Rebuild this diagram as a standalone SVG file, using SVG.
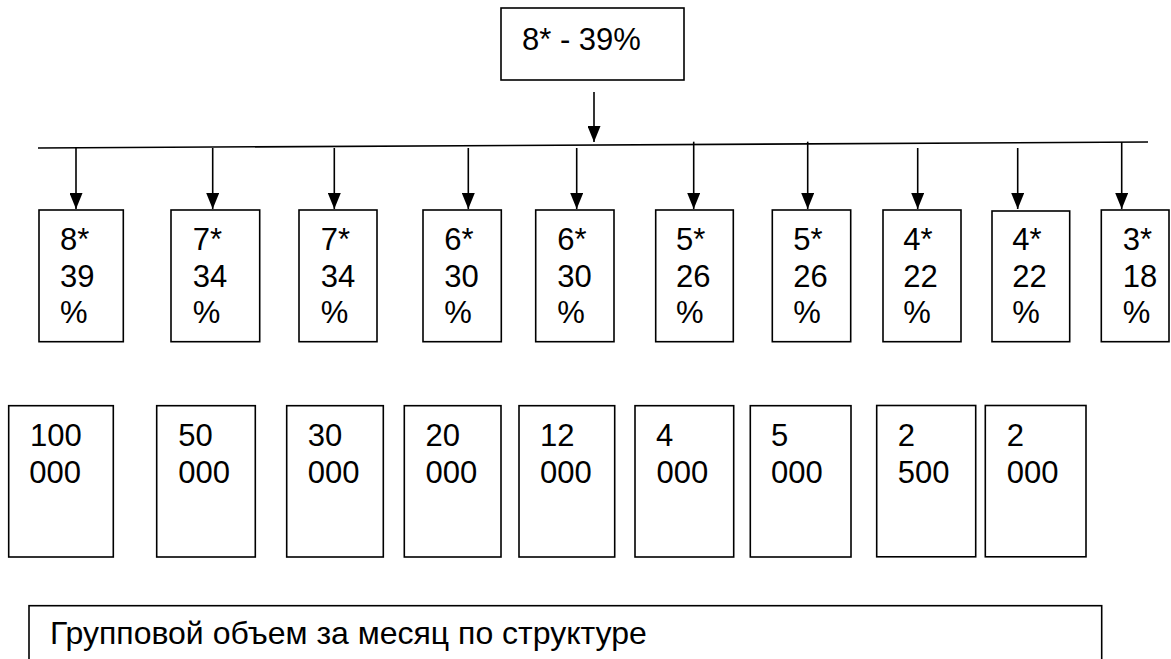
<svg xmlns="http://www.w3.org/2000/svg" width="1171" height="659" viewBox="0 0 1171 659">
<style>
.box{fill:#fff;stroke:#000;stroke-width:1.6}
.t{font-family:"Liberation Sans",Arial,sans-serif;font-size:31px;fill:#000}
.tb{font-family:"Liberation Sans",Arial,sans-serif;font-size:32px;fill:#000}
.ln{stroke:#000;stroke-width:1.6;fill:none}
.ar{stroke:#000;stroke-width:1.6;fill:none;marker-end:url(#ah)}
</style>
<defs>
<marker id="ah" markerUnits="userSpaceOnUse" markerWidth="16" markerHeight="13" refX="16" refY="6.5" orient="auto">
<path d="M0,0 L16,6.5 L0,13 Z" fill="#000"/>
</marker>
</defs>
<rect width="1171" height="659" fill="#fff"/>
<g id="top">
<rect class="box" x="501" y="8" width="183" height="72"/>
<text class="t" x="522" y="50">8* - 39%</text>
</g>
<g id="connectors">
<line class="ar" x1="594" y1="92" x2="594" y2="142"/>
<line class="ln" x1="38" y1="148" x2="1148" y2="142"/>
<line class="ar" x1="76" y1="148" x2="76" y2="209"/>
<line class="ar" x1="212.7" y1="148" x2="212.7" y2="209"/>
<line class="ar" x1="334.3" y1="148" x2="334.3" y2="209"/>
<line class="ar" x1="468.3" y1="148" x2="468.3" y2="209"/>
<line class="ar" x1="576.7" y1="148" x2="576.7" y2="209"/>
<line class="ar" x1="693.7" y1="141.7" x2="693.7" y2="209"/>
<line class="ar" x1="807.7" y1="141.7" x2="807.7" y2="209"/>
<line class="ar" x1="917.7" y1="148" x2="917.7" y2="209"/>
<line class="ar" x1="1017.7" y1="148" x2="1017.7" y2="209"/>
<line class="ar" x1="1121.7" y1="142" x2="1121.7" y2="209"/>
</g>
<g id="m1"><rect class="box" x="39" y="210" width="84.3" height="131.7"/><text class="t" x="60" y="250">8*</text><text class="t" x="60" y="286.7">39</text><text class="t" x="60" y="323">%</text></g>
<g id="m2"><rect class="box" x="171" y="210" width="88.7" height="131.7"/><text class="t" x="192.7" y="250">7*</text><text class="t" x="192.7" y="286.7">34</text><text class="t" x="192.7" y="323">%</text></g>
<g id="m3"><rect class="box" x="299" y="210" width="78" height="131.7"/><text class="t" x="320.7" y="250">7*</text><text class="t" x="320.7" y="286.7">34</text><text class="t" x="320.7" y="323">%</text></g>
<g id="m4"><rect class="box" x="423" y="210" width="78.3" height="131.7"/><text class="t" x="444.3" y="250">6*</text><text class="t" x="444.3" y="286.7">30</text><text class="t" x="444.3" y="323">%</text></g>
<g id="m5"><rect class="box" x="535.7" y="210" width="78.3" height="131.7"/><text class="t" x="557.3" y="250">6*</text><text class="t" x="557.3" y="286.7">30</text><text class="t" x="557.3" y="323">%</text></g>
<g id="m6"><rect class="box" x="655.7" y="210" width="77.6" height="131.7"/><text class="t" x="676" y="250">5*</text><text class="t" x="676" y="286.7">26</text><text class="t" x="676" y="323">%</text></g>
<g id="m7"><rect class="box" x="772.3" y="210" width="78.4" height="131.7"/><text class="t" x="793.3" y="250">5*</text><text class="t" x="793.3" y="286.7">26</text><text class="t" x="793.3" y="323">%</text></g>
<g id="m8"><rect class="box" x="883" y="210" width="78" height="131.7"/><text class="t" x="903.3" y="250">4*</text><text class="t" x="903.3" y="286.7">22</text><text class="t" x="903.3" y="323">%</text></g>
<g id="m9"><rect class="box" x="992" y="211" width="77.7" height="130.7"/><text class="t" x="1012.3" y="250">4*</text><text class="t" x="1012.3" y="286.7">22</text><text class="t" x="1012.3" y="323">%</text></g>
<g id="m10"><rect class="box" x="1101.3" y="210" width="67.7" height="131.7"/><text class="t" x="1122.7" y="250">3*</text><text class="t" x="1122.7" y="286.7">18</text><text class="t" x="1122.7" y="323">%</text></g>
<g id="b1"><rect class="box" x="8.7" y="405.7" width="104.6" height="151.3"/><text class="t" x="30" y="446">100</text><text class="t" x="29.3" y="482.7">000</text></g>
<g id="b2"><rect class="box" x="156.7" y="405.7" width="98.6" height="151.3"/><text class="t" x="178.3" y="446">50</text><text class="t" x="178.3" y="482.7">000</text></g>
<g id="b3"><rect class="box" x="286.7" y="405.7" width="96.6" height="151.3"/><text class="t" x="307.7" y="446">30</text><text class="t" x="307.7" y="482.7">000</text></g>
<g id="b4"><rect class="box" x="404.3" y="405.7" width="96.7" height="151.3"/><text class="t" x="425.5" y="446">20</text><text class="t" x="425.5" y="482.7">000</text></g>
<g id="b5"><rect class="box" x="519" y="405.7" width="95.7" height="151.3"/><text class="t" x="540" y="446">12</text><text class="t" x="540" y="482.7">000</text></g>
<g id="b6"><rect class="box" x="635" y="405.7" width="98.7" height="151.3"/><text class="t" x="656" y="446">4</text><text class="t" x="656.5" y="482.7">000</text></g>
<g id="b7"><rect class="box" x="750.3" y="405.7" width="100.7" height="151.3"/><text class="t" x="771" y="446">5</text><text class="t" x="771" y="482.7">000</text></g>
<g id="b8"><rect class="box" x="876.7" y="405.5" width="99" height="151.3"/><text class="t" x="897.7" y="446">2</text><text class="t" x="897.7" y="482.7">500</text></g>
<g id="b9"><rect class="box" x="985.3" y="405.5" width="100.7" height="151.3"/><text class="t" x="1006.7" y="446">2</text><text class="t" x="1006.7" y="482.7">000</text></g>
<g id="bottom">
<rect class="box" x="29" y="605.7" width="1072.7" height="70"/>
<text class="tb" x="50" y="644">Групповой объем за месяц по структуре</text>
</g>
</svg>
